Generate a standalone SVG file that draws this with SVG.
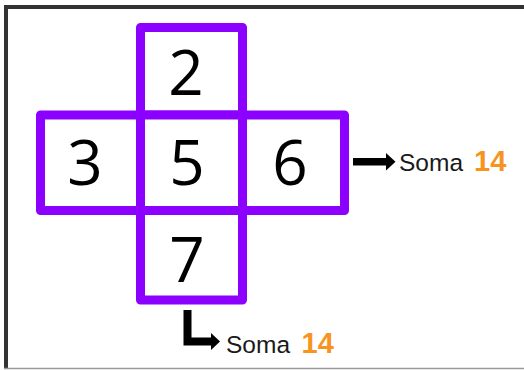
<svg xmlns="http://www.w3.org/2000/svg" width="524" height="370" viewBox="0 0 524 370">
<style>
.cell{fill:#ffffff;stroke:#8c00ff;stroke-width:9;stroke-linejoin:round}
.dig{font-family:"Open Sans","Noto Sans",sans-serif;font-size:62px;fill:#000;text-anchor:middle}
.soma{font-family:"Liberation Sans",Arial,sans-serif;font-size:24.5px;fill:#1a1a1a}
.num{font-family:"Liberation Sans",Arial,sans-serif;font-size:29px;font-weight:bold;fill:#f7931e}
.arrow{fill:#000}
</style>
<rect x="0" y="0" width="524" height="370" fill="#ffffff"/>
<g id="frame">
<line x1="4" y1="7" x2="524" y2="7" stroke="#333" stroke-width="4"/>
<line x1="6" y1="5" x2="6" y2="368" stroke="#333" stroke-width="4"/>
<line x1="4" y1="368.5" x2="524" y2="368.5" stroke="#9a9a9a" stroke-width="1.5"/>
</g>
<g id="cell-top">
<rect class="cell" x="140.5" y="27.5" width="102" height="87.5"/>
<text class="dig" x="186" y="95">2</text>
</g>
<g id="cell-bottom">
<rect class="cell" x="140.5" y="210.5" width="102" height="89.5"/>
<text class="dig" x="187" y="281.5">7</text>
</g>
<g id="cell-left">
<rect class="cell" x="40.5" y="115" width="100" height="95.5"/>
<text class="dig" x="85" y="185">3</text>
</g>
<g id="cell-right">
<rect class="cell" x="242.5" y="115" width="102" height="95.5"/>
<text class="dig" x="290" y="185">6</text>
</g>
<g id="cell-center">
<rect class="cell" x="140.5" y="115" width="102" height="95.5"/>
<text class="dig" x="187" y="185">5</text>
</g>
<g id="connectors">
<rect class="arrow" x="353" y="158" width="34" height="7.5"/>
<polygon class="arrow" points="386,153 395.5,161.75 386,170.5"/>
<path d="M187.5,310 V341.5 H212" fill="none" stroke="#000" stroke-width="8"/>
<polygon class="arrow" points="211,333 220,341.5 211,350"/>
</g>
<g id="label-right">
<text x="399" y="171"><tspan class="soma">Soma</tspan><tspan class="num" x="474">14</tspan></text>
</g>
<g id="label-bottom">
<text x="226" y="352.5"><tspan class="soma">Soma</tspan><tspan class="num" x="301.5">14</tspan></text>
</g>
</svg>
